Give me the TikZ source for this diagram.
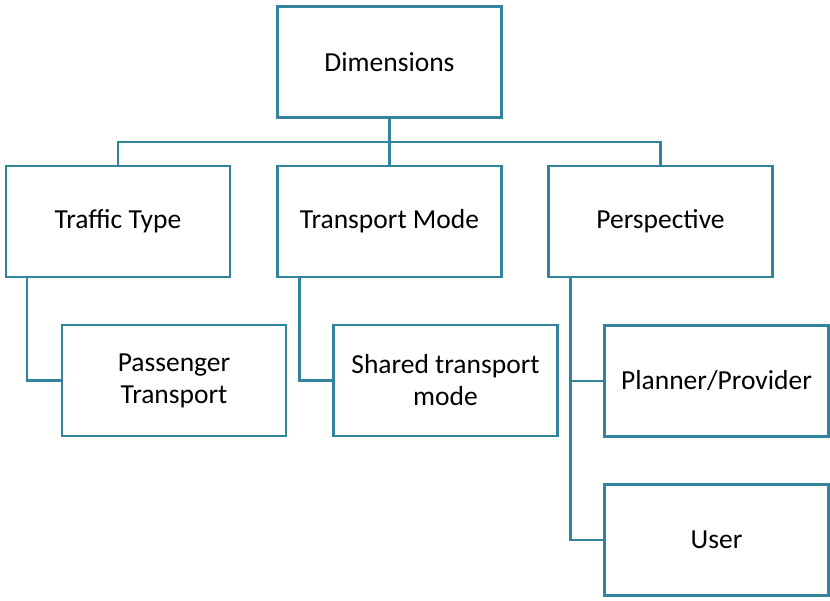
\documentclass[tikz,border=0pt]{standalone}
\usepackage{fontspec}
\setmainfont{Carlito}
\definecolor{teal1}{HTML}{31849B}
\begin{document}
\begin{tikzpicture}[x=1pt,y=-1pt,
  box/.style={draw=teal1,line width=2.3pt,fill=white,minimum width=224pt,minimum height=111pt,
    inner sep=0pt,align=center,font=\fontsize{27.5}{32}\selectfont},
  link/.style={draw=teal1,line width=2.3pt}]
\useasboundingbox (0,0) rectangle (830,600);
\node[box] (dim) at (389.5,62) {Dimensions};
\node[box] (tt) at (118,221.5) {Traffic Type};
\node[box] (tm) at (389.5,221.5) {Transport Mode};
\node[box] (pe) at (660.5,221.5) {Perspective};
\node[box] (pt) at (174,380.5) {Passenger\\Transport};
\node[box] (st) at (445.5,380.5) {Shared transport\\mode};
\node[box] (pp) at (716.5,381) {Planner/Provider};
\node[box] (us) at (716.5,540) {User};
\coordinate (bus) at (389.5,142);
\draw[link] (dim.south) -- (dim.south |- bus);
\draw[link] (tt.north) |- (bus) -| (pe.north);
\draw[link] (tm.north) -- (tm.north |- bus);
\draw[link] ([xshift=22pt]tt.south west) |- (pt.west);
\draw[link] ([xshift=23pt]tm.south west) |- (st.west);
\draw[link] ([xshift=23pt]pe.south west) |- (us.west);
\draw[link] ([xshift=23pt]pe.south west |- pp.west) -- (pp.west);
\end{tikzpicture}
\end{document}
